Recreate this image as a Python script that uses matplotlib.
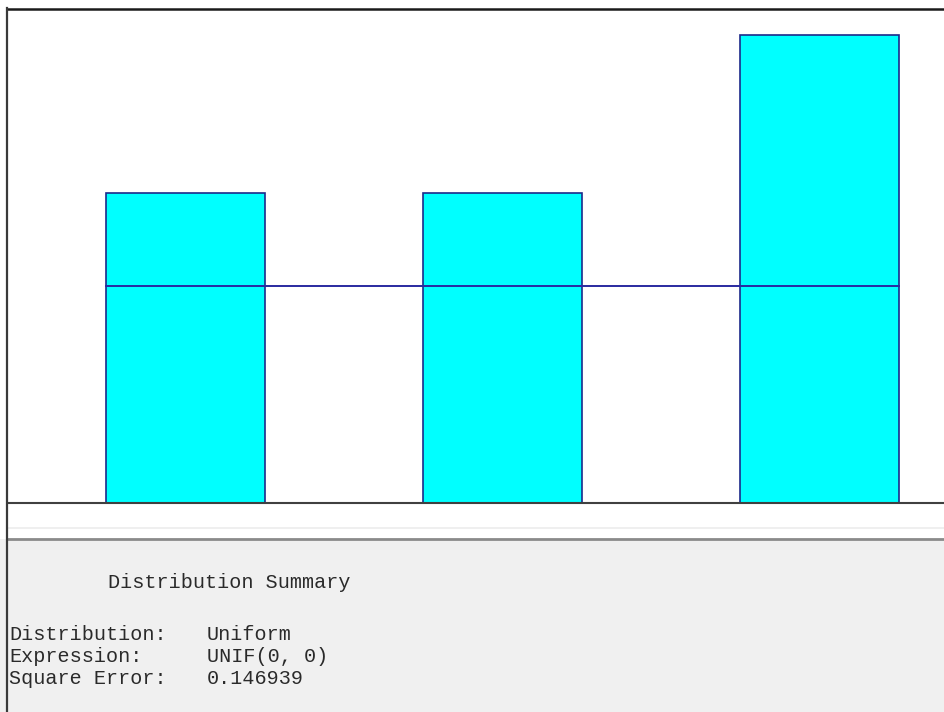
import matplotlib
matplotlib.use("Agg")
import matplotlib.pyplot as plt
from matplotlib.lines import Line2D
from matplotlib.patches import Rectangle

# Histogram of observed relative frequencies and fitted uniform density
bin_centers = [0, 1, 2]
observed = [0.286, 0.286, 0.431]
fitted_density = 0.2

summary_title = "Distribution Summary"
summary_rows = [
    ("Distribution:", "Uniform"),
    ("Expression:", "UNIF(0, 0)"),
    ("Square Error:", "0.146939"),
]

W, H = 945, 712
fig = plt.figure(figsize=(W / 100, H / 100), dpi=100)
fig.patch.set_facecolor("white")


def fx(px):
    return px / W


def fy(py):
    return 1 - py / H


# Grey summary panel beneath the chart
fig.add_artist(Rectangle((0, 0), 1, fy(539), transform=fig.transFigure,
                         facecolor="#f0f0f0", edgecolor="none", zorder=0))
fig.add_artist(Line2D([fx(7), 1], [fy(528), fy(528)], transform=fig.transFigure,
                      color="#ececec", lw=1.2, zorder=1))
fig.add_artist(Line2D([fx(7), 1], [fy(538.5), fy(538.5)], transform=fig.transFigure,
                      color="#8a8a8a", lw=2.0, zorder=1))

# Plot area
ax = fig.add_axes([fx(8), fy(503), 1 - fx(8), fy(9) - fy(503)])
ax.set_facecolor("white")
ax.bar(bin_centers, observed, width=0.5, color="#00ffff",
       edgecolor="#1c2a8a", linewidth=1.2, zorder=2)
ax.plot([bin_centers[0] - 0.25, bin_centers[-1] + 0.25],
        [fitted_density, fitted_density], color="#2a2aa0", lw=1.4, zorder=3)
ax.set_xlim(-0.56, 2.396)
ax.set_ylim(0, 0.4553)
ax.set_xticks([])
ax.set_yticks([])
for side in ("left", "top", "right"):
    ax.spines[side].set_visible(False)
ax.spines["bottom"].set_color("#404040")
ax.spines["bottom"].set_linewidth(1.5)

# Window frame: top and left edges
fig.add_artist(Line2D([fx(7), 1], [fy(8.5), fy(8.5)], transform=fig.transFigure,
                      color="#1a1a1a", lw=1.8, zorder=5))
fig.add_artist(Line2D([fx(7.5), fx(7.5)], [0, fy(8)], transform=fig.transFigure,
                      color="#3a3a3a", lw=1.6, zorder=5))

# Summary text
mono = ["Liberation Mono", "DejaVu Sans Mono"]
fig.text(fx(108), fy(582), summary_title, family=mono, fontsize=14.5,
         color="#2a2a2a", va="center", ha="left")
for i, (label, value) in enumerate(summary_rows):
    y = fy(635 + 22 * i)
    fig.text(fx(9), y, label, family=mono, fontsize=14.5, color="#2a2a2a",
             va="center", ha="left")
    fig.text(fx(207), y, value, family=mono, fontsize=14.5, color="#2a2a2a",
             va="center", ha="left")

fig.savefig("out.png", dpi=100, facecolor=fig.get_facecolor())
